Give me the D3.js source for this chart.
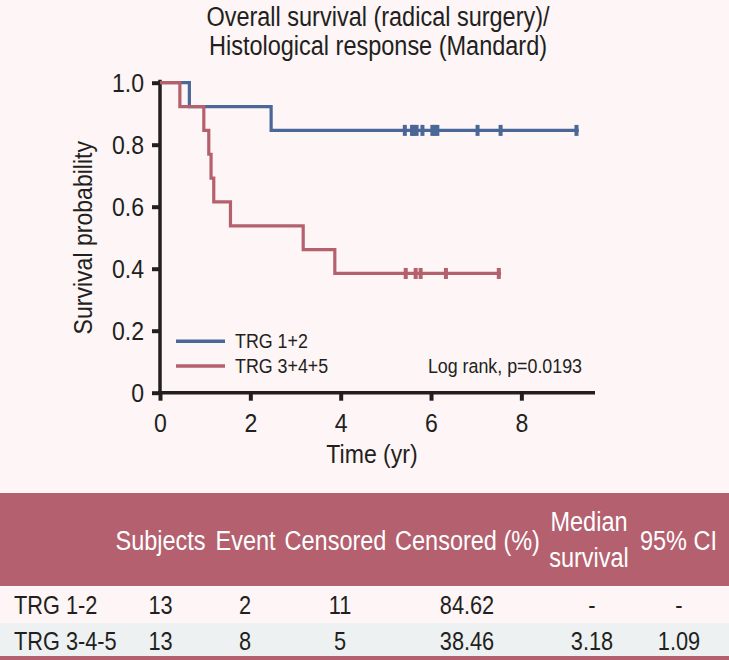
<!DOCTYPE html>
<html><head><meta charset="utf-8">
<script src="https://cdn.jsdelivr.net/npm/d3@7"></script>
<style>
html,body{margin:0;padding:0;background:#fdf5f6;}
svg{display:block;}
text{font-family:"Liberation Sans",Arial,sans-serif;fill:#231f20;}
</style></head>
<body>
<svg id="c" width="729" height="660"></svg>
<script>
// ---------- data ----------
const titleLines = ["Overall survival (radical surgery)/", "Histological response (Mandard)"];
const groupNames = ["TRG 1+2", "TRG 3+4+5"];
const groupN = [13, 13];
const blueEventTimes = [0.65, 2.46];
const blueCensorTimes = [5.42, 5.58, 5.62, 5.68, 5.81, 6.03, 6.08, 6.14, 7.03, 7.54, 9.22];
const redEventTimes = [0.44, 0.97, 1.08, 1.13, 1.19, 1.56, 3.17, 3.87];
const redCensorTimes = [5.44, 5.66, 5.77, 6.33, 7.50];
const xTicks = [0, 2, 4, 6, 8];
const yTicks = [0, 0.2, 0.4, 0.6, 0.8, 1.0];
const yTickLabels = ["0", "0.2", "0.4", "0.6", "0.8", "1.0"];
const pValueText = "Log rank, p=0.0193";
const tableHeaders = ["Subjects", "Event", "Censored", "Censored (%)", "Median|survival", "95% CI"];
const rowLabels = ["TRG 1-2", "TRG 3-4-5"];
const colSubjects = ["13", "13"];
const colEvents = ["2", "8"];
const colCensored = ["11", "5"];
const colCensoredPct = ["84.62", "38.46"];
const colMedian = ["-", "3.18"];
const colCI = ["-", "1.09"];

// ---------- layout ----------
const svg = d3.select("#c");
const colors = ["#4b6798", "#b5606d"];
const ink = "#231f20";
const SX = 0.87; // horizontal condensation of the font
const x = d3.scaleLinear().domain([0, 9.63]).range([160, 595]);
const y = d3.scaleLinear().domain([0, 1]).range([392.7, 82.7]);

function T(parent, px, py, str, size, anchor, fill) {
  return parent.append("text")
    .attr("transform", `translate(${px},${py}) scale(${SX},1)`)
    .attr("text-anchor", anchor || "start")
    .style("font-size", size + "px")
    .style("fill", fill || ink)
    .text(str);
}

// title
titleLines.forEach((t, i) => T(svg, 378, 26 + i * 29, t, 27, "middle"));

// axes
const xAxis = svg.append("g").attr("transform", `translate(0,${y(0)})`)
  .call(d3.axisBottom(x).tickValues(xTicks).tickFormat(d3.format("d")).tickSizeOuter(0).tickSize(8).tickPadding(12));
const yAxis = svg.append("g").attr("transform", `translate(${x(0)},0)`)
  .call(d3.axisLeft(y).tickValues(yTicks).tickFormat((d, i) => yTickLabels[i]).tickSizeOuter(0).tickSize(8).tickPadding(8));
[xAxis, yAxis].forEach(g => {
  g.select(".domain").attr("stroke", ink).attr("stroke-width", 3.5);
  g.selectAll(".tick line").attr("stroke", ink).attr("stroke-width", 4);
  g.selectAll(".tick text").style("font-size", "26.5px").style("fill", ink)
    .each(function () {
      const t = d3.select(this);
      const tx = +t.attr("x") || 0;
      const ty = +t.attr("y") || 0;
      t.attr("x", null).attr("y", null).attr("transform", `translate(${tx},${ty}) scale(${SX},1)`);
    });
});
xAxis.select(".domain").attr("d", `M${x(0) - 2},0H${x.range()[1]}`);
yAxis.select(".domain").attr("d", `M0,${y(1) - 3}V${y(0) + 2}`);

T(svg, 372, 463, "Time (yr)", 26.5, "middle");
svg.append("text").attr("transform", `translate(92,${(y(0) + y(1)) / 2}) rotate(-90) scale(${SX},1)`)
  .attr("text-anchor", "middle").style("font-size", "26.5px").style("fill", ink).text("Survival probability");

// Kaplan-Meier curves
function km(events, censors, n) {
  const all = events.map(t => ({t, e: 1})).concat(censors.map(t => ({t, e: 0}))).sort((a, b) => a.t - b.t || b.e - a.e);
  let s = 1, atRisk = n;
  const pts = [[0, 1]];
  const marks = [];
  all.forEach(o => {
    if (o.e) { pts.push([o.t, s]); s = s * (atRisk - 1) / atRisk; pts.push([o.t, s]); }
    else marks.push([o.t, s]);
    atRisk -= 1;
  });
  pts.push([all[all.length - 1].t + 0.05, s]);
  return {pts, marks};
}
const curves = [km(blueEventTimes, blueCensorTimes, groupN[0]), km(redEventTimes, redCensorTimes, groupN[1])];
const line = d3.line().x(d => x(d[0])).y(d => y(d[1]));
curves.forEach((c, i) => {
  svg.append("path").attr("d", line(c.pts)).attr("fill", "none")
    .attr("stroke", colors[i]).attr("stroke-width", 3.2).attr("stroke-linejoin", "miter");
  svg.append("g").selectAll("rect").data(c.marks).join("rect")
    .attr("x", d => x(d[0]) - 2).attr("y", d => y(d[1]) - 5.5)
    .attr("width", 4).attr("height", 11).attr("fill", colors[i]);
});

// legend
groupNames.forEach((nm, i) => {
  const yy = 341.3 + i * 24.7;
  svg.append("line").attr("x1", 176).attr("x2", 225).attr("y1", yy).attr("y2", yy)
    .attr("stroke", colors[i]).attr("stroke-width", 3.5);
  T(svg, 235, yy + 7, nm, 20.5, "start");
});
T(svg, 582, 373, pValueText, 20.5, "end");

// table
const mauve = "#b4606f";
svg.append("rect").attr("x", 0).attr("y", 493).attr("width", 729).attr("height", 93).attr("fill", mauve);
svg.append("rect").attr("x", 0).attr("y", 623).attr("width", 729).attr("height", 33).attr("fill", "#edf1f1");
svg.append("rect").attr("x", 0).attr("y", 656).attr("width", 729).attr("height", 4).attr("fill", mauve);
const headX = [160.5, 245.5, 335.5, 467.5, 589, 678.5];
const colX = [160.5, 245, 340, 467, 592, 679];
tableHeaders.forEach((h, j) => {
  const parts = h.split("|");
  parts.forEach((p, k) => {
    T(svg, headX[j], parts.length === 1 ? 549.5 : 531 + k * 36, p, 27, "middle", "#ffffff");
  });
});
const cols = [colSubjects, colEvents, colCensored, colCensoredPct, colMedian, colCI];
rowLabels.forEach((r, i) => {
  const yy = 614 + i * 36;
  T(svg, 14, yy, r, 25, "start");
  cols.forEach((col, j) => T(svg, colX[j], yy, col[i], 25, "middle"));
});
</script>
</body></html>
